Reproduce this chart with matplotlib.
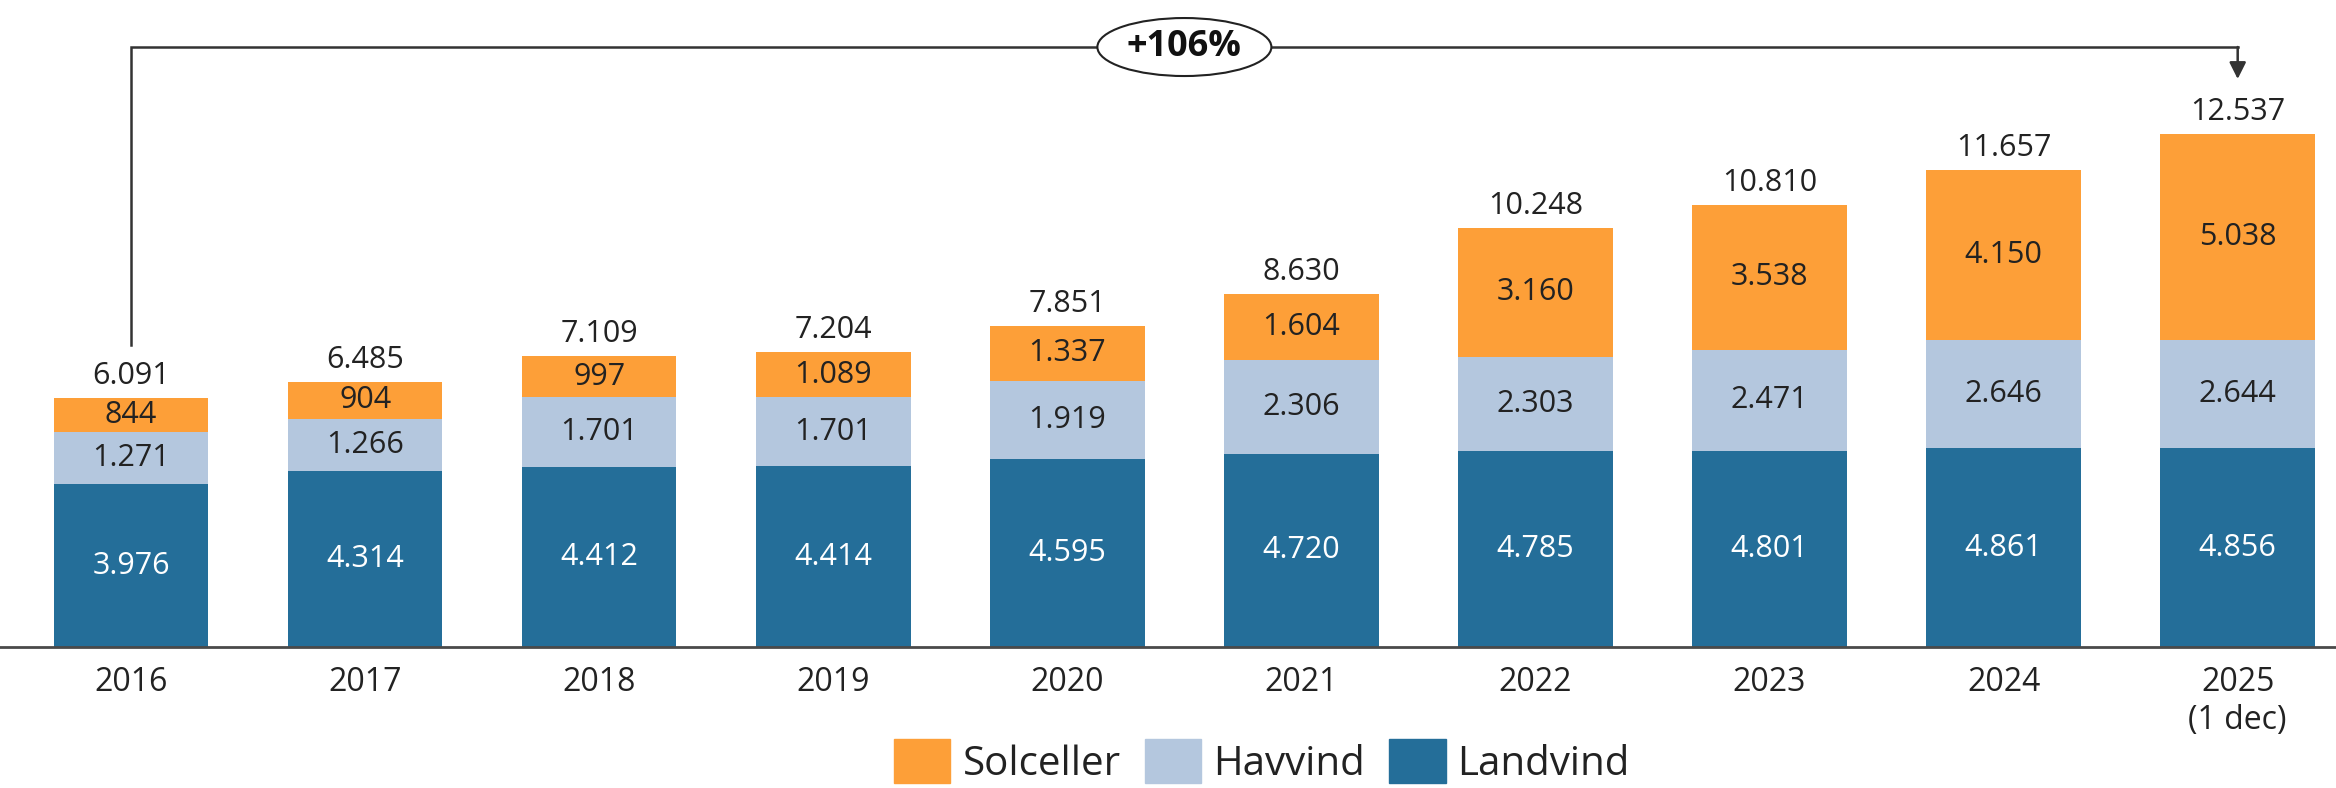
import numpy as np
import matplotlib.pyplot as plt
from matplotlib.patches import Patch, Ellipse
from matplotlib.transforms import ScaledTranslation

# Data (MW installed capacity)
years = ['2016', '2017', '2018', '2019', '2020', '2021', '2022', '2023', '2024', '2025\n(1 dec)']
landvind = [3976, 4314, 4412, 4414, 4595, 4720, 4785, 4801, 4861, 4856]
havvind = [1271, 1266, 1701, 1701, 1919, 2306, 2303, 2471, 2646, 2644]
solceller = [844, 904, 997, 1089, 1337, 1604, 3160, 3538, 4150, 5038]
totals = [6091, 6485, 7109, 7204, 7851, 8630, 10248, 10810, 11657, 12537]
growth_label = '+106%'

c_land = '#246E99'
c_hav = '#B4C7DE'
c_sol = '#FD9F38'
txt = '#222222'

plt.rcParams['font.family'] = ['Open Sans', 'DejaVu Sans']


def fmt(v):
    return f"{v:,}".replace(',', '.')


fig = plt.figure(figsize=(23.36, 7.88), dpi=100)
ax = fig.add_axes([0, 0.179, 1, 0.821])

x = np.arange(len(years))
w = 0.66
bottom2 = np.array(landvind) + np.array(havvind)

b1 = ax.bar(x, landvind, w, color=c_land, linewidth=0)
b2 = ax.bar(x, havvind, w, bottom=landvind, color=c_hav, linewidth=0)
b3 = ax.bar(x, solceller, w, bottom=bottom2, color=c_sol, linewidth=0)

ax.bar_label(b1, labels=[fmt(v) for v in landvind], label_type='center', color='white', fontsize=22)
ax.bar_label(b2, labels=[fmt(v) for v in havvind], label_type='center', color=txt, fontsize=22)
ax.bar_label(b3, labels=[fmt(v) for v in solceller], label_type='center', color=txt, fontsize=22)
ax.bar_label(b3, labels=[fmt(v) for v in totals], padding=5, color=txt, fontsize=22)

ax.set_xlim(-0.56, 9.42)
ax.set_ylim(0, 15820)
for s in ['top', 'left', 'right']:
    ax.spines[s].set_visible(False)
ax.spines['bottom'].set_color('#4a4a4a')
ax.spines['bottom'].set_linewidth(2)
ax.set_yticks([])
ax.set_xticks(x, years)
ax.tick_params(axis='x', length=0, pad=14, labelsize=23, colors=txt)

# growth bracket from first to last bar
top_y = 14670
start_y = 7384
tip_y = 13888
ax.plot([0, 0, 9], [start_y, top_y, top_y], color='#333333', lw=1.8,
        clip_on=False, solid_joinstyle='miter')
ax.annotate('', xy=(9, tip_y), xytext=(9, top_y),
            arrowprops=dict(arrowstyle='-|>', color='#333333', lw=1.8,
                            shrinkA=0, shrinkB=0, mutation_scale=25),
            annotation_clip=False)
# ellipse sized in inches, centred on the bracket line
ell = Ellipse((0, 0), 1.74, 0.58, fc='white', ec='#222222', lw=1.5, zorder=4,
              transform=fig.dpi_scale_trans + ScaledTranslation(4.5, top_y, ax.transData),
              clip_on=False)
ax.add_patch(ell)
ax.text(4.5, top_y, growth_label, ha='center', va='center', fontsize=26,
        fontweight='bold', color='#111111', zorder=5)

handles = [Patch(color=c_sol, label='Solceller'),
           Patch(color=c_hav, label='Havvind'),
           Patch(color=c_land, label='Landvind')]
fig.legend(handles=handles, loc='upper left', bbox_to_anchor=(0.3827, 0.062),
           ncol=3, frameon=False, fontsize=29, handlelength=1.4, handleheight=1.3,
           handletextpad=0.3, columnspacing=0.6, borderaxespad=0, borderpad=0,
           labelcolor=txt)

fig.savefig('out.png', dpi=100)
